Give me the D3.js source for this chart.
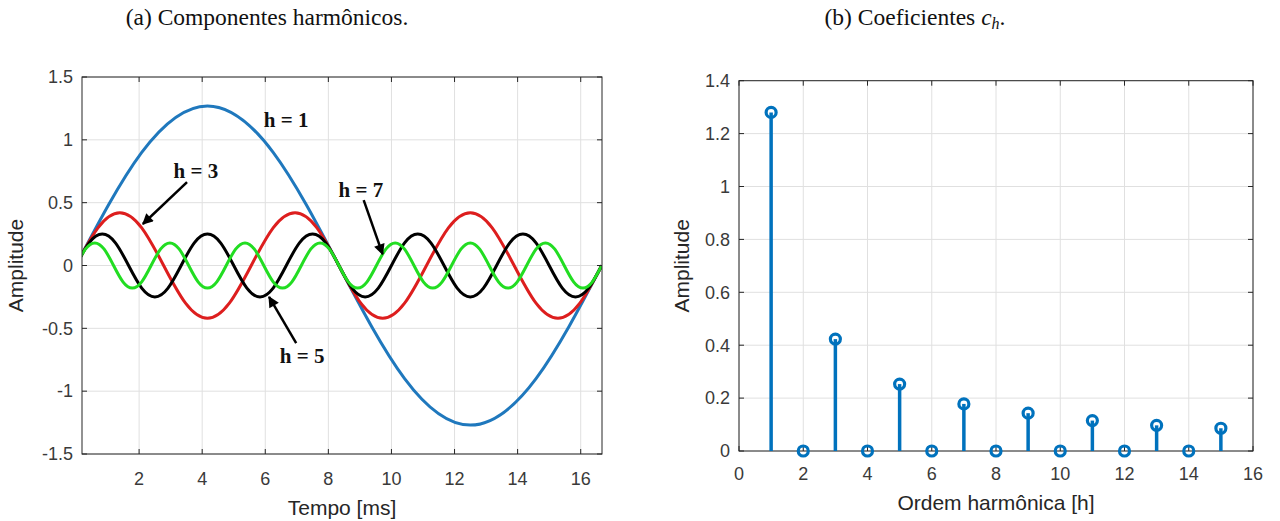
<!DOCTYPE html>
<html>
<head>
<meta charset="utf-8">
<script src="https://cdn.jsdelivr.net/npm/d3@7"></script>
<style>
	body { margin: 0; background: #fff; }
	svg { display: block; }
	.tick-label { font-family: "Liberation Sans", Arial, sans-serif; font-size: 18px; fill: #3a3a3a; }
	.axis-label { font-family: "Liberation Sans", Arial, sans-serif; font-size: 21px; fill: #262626; }
	.title { font-family: "Liberation Serif", serif; font-size: 23.5px; fill: #111; }
	.note { font-family: "Liberation Serif", serif; font-size: 21px; font-weight: bold; fill: #111; }
</style>
</head>
<body>
<script>
let period = 16.667 // ms
let harmonics = [1, 3, 5, 7]
let waveColors = ['#1f78bd', '#dd1e1e', '#000000', '#22dd22']

let wave1 = [0, 0.9, 1.27, 0.9, 0, -0.9, -1.27, -0.9, 0]
let wave3 = [
	0, 0.3, 0.42, 0.3, 0, -0.3, -0.42, -0.3,
	0, 0.3, 0.42, 0.3, 0, -0.3, -0.42, -0.3,
	0, 0.3, 0.42, 0.3, 0, -0.3, -0.42, -0.3,
	0]
let wave5 = [
	0, 0.18, 0.25, 0.18, 0, -0.18, -0.25, -0.18,
	0, 0.18, 0.25, 0.18, 0, -0.18, -0.25, -0.18,
	0, 0.18, 0.25, 0.18, 0, -0.18, -0.25, -0.18,
	0, 0.18, 0.25, 0.18, 0, -0.18, -0.25, -0.18,
	0, 0.18, 0.25, 0.18, 0, -0.18, -0.25, -0.18,
	0]
let wave7 = [
	0, 0.13, 0.18, 0.13, 0, -0.13, -0.18, -0.13,
	0, 0.13, 0.18, 0.13, 0, -0.13, -0.18, -0.13,
	0, 0.13, 0.18, 0.13, 0, -0.13, -0.18, -0.13,
	0, 0.13, 0.18, 0.13, 0, -0.13, -0.18, -0.13,
	0, 0.13, 0.18, 0.13, 0, -0.13, -0.18, -0.13,
	0, 0.13, 0.18, 0.13, 0, -0.13, -0.18, -0.13,
	0, 0.13, 0.18, 0.13, 0, -0.13, -0.18, -0.13,
	0]
let waves = [wave1, wave3, wave5, wave7]

let timeTicks = [2, 4, 6, 8, 10, 12, 14, 16]
let ampTicksA = [-1.5, -1, -0.5, 0, 0.5, 1, 1.5]

// anotacoes: texto e setas, em unidades dos eixos (t em ms, y em amplitude)
let notes = [
	{ text: 'h = 1', t: 6.66, y: 1.10 },
	{ text: 'h = 3', t: 3.80, y: 0.70 },
	{ text: 'h = 7', t: 9.03, y: 0.545 },
	{ text: 'h = 5', t: 7.17, y: -0.776 },
]
let arrows = [
	{ t0: 3.52, y0: 0.664, t1: 2.12, y1: 0.33 },
	{ t0: 9.12, y0: 0.52, t1: 9.72, y1: 0.09 },
	{ t0: 6.98, y0: -0.617, t1: 6.12, y1: -0.25 },
]

// (b) coeficientes c_h
let orders = [1, 2, 3, 4, 5, 6, 7, 8, 9, 10, 11, 12, 13, 14, 15]
let coefs = [1.28, 0, 0.423, 0, 0.253, 0, 0.178, 0, 0.143, 0, 0.115, 0, 0.097, 0, 0.086]
let orderTicks = [0, 2, 4, 6, 8, 10, 12, 14, 16]
let ampTicksB = [0, 0.2, 0.4, 0.6, 0.8, 1, 1.2, 1.4]

let W = 1280, H = 521
let svg = d3.select('body').append('svg')
	.attr('width', W)
	.attr('height', H)

let defs = svg.append('defs')
defs.append('marker')
	.attr('id', 'head')
	.attr('viewBox', '0 0 10 10')
	.attr('refX', 9)
	.attr('refY', 5)
	.attr('markerUnits', 'userSpaceOnUse')
	.attr('markerWidth', 14)
	.attr('markerHeight', 11)
	.attr('orient', 'auto')
	.append('path')
	.attr('d', 'M0,0L10,5L0,10Z')
	.attr('fill', '#000')

function grid(g, x, y, xTicks, yTicks) {
	let [xa, xb] = x.range()
	let [ya, yb] = y.range()
	g.append('g').selectAll('line').data(xTicks).join('line')
		.attr('x1', d => x(d)).attr('x2', d => x(d))
		.attr('y1', ya).attr('y2', yb)
		.attr('stroke', '#e0e0e0')
	g.append('g').selectAll('line').data(yTicks).join('line')
		.attr('y1', d => y(d)).attr('y2', d => y(d))
		.attr('x1', xa).attr('x2', xb)
		.attr('stroke', '#e0e0e0')
}

function ticksAndBox(g, x, y, xTicks, yTicks, xLabelGap) {
	let [xa, xb] = x.range()
	let [ya, yb] = y.range()
	let c = '#262626', tl = 5
	g.append('rect')
		.attr('x', xa).attr('y', yb)
		.attr('width', xb - xa).attr('height', ya - yb)
		.attr('fill', 'none').attr('stroke', c).attr('stroke-width', 1)
	let tk = g.append('g').attr('stroke', c)
	xTicks.forEach(d => {
		tk.append('line').attr('x1', x(d)).attr('x2', x(d)).attr('y1', ya).attr('y2', ya - tl)
		tk.append('line').attr('x1', x(d)).attr('x2', x(d)).attr('y1', yb).attr('y2', yb + tl)
	})
	yTicks.forEach(d => {
		tk.append('line').attr('y1', y(d)).attr('y2', y(d)).attr('x1', xa).attr('x2', xa + tl)
		tk.append('line').attr('y1', y(d)).attr('y2', y(d)).attr('x1', xb).attr('x2', xb - tl)
	})
	g.append('g').selectAll('text').data(xTicks).join('text')
		.attr('class', 'tick-label')
		.attr('x', d => x(d))
		.attr('y', ya + xLabelGap)
		.attr('text-anchor', 'middle')
		.text(d => d)
	g.append('g').selectAll('text').data(yTicks).join('text')
		.attr('class', 'tick-label')
		.attr('x', xa - 9)
		.attr('y', d => y(d))
		.attr('dy', '0.35em')
		.attr('text-anchor', 'end')
		.text(d => d)
}

// ---------- (a) ----------
let xA = d3.scaleLinear().domain([0.19, 16.675]).range([82, 602])
let yA = d3.scaleLinear().domain([-1.5, 1.5]).range([454, 77])
let gA = svg.append('g')

grid(gA, xA, yA, timeTicks, ampTicksA)

defs.append('clipPath').attr('id', 'clipA')
	.append('rect').attr('x', 82).attr('y', 77).attr('width', 520).attr('height', 377)

let line = d3.line()
	.x(d => xA(d[0]))
	.y(d => yA(d[1]))
	.curve(d3.curveNatural)

gA.append('g').attr('clip-path', 'url(#clipA)')
	.selectAll('path').data(waves).join('path')
	.attr('d', (w, k) => line(w.map((v, i) => [i * period / (8 * harmonics[k]), v])))
	.attr('fill', 'none')
	.attr('stroke', (w, k) => waveColors[k])
	.attr('stroke-width', 3)

ticksAndBox(gA, xA, yA, timeTicks, ampTicksA, 31)

gA.append('g').selectAll('text').data(notes).join('text')
	.attr('class', 'note')
	.attr('x', d => xA(d.t))
	.attr('y', d => yA(d.y))
	.attr('text-anchor', 'middle')
	.text(d => d.text)

gA.append('g').selectAll('line').data(arrows).join('line')
	.attr('x1', d => xA(d.t0)).attr('y1', d => yA(d.y0))
	.attr('x2', d => xA(d.t1)).attr('y2', d => yA(d.y1))
	.attr('stroke', '#000')
	.attr('stroke-width', 2.5)
	.attr('marker-end', 'url(#head)')

gA.append('text').attr('class', 'axis-label')
	.attr('x', 342).attr('y', 515)
	.attr('text-anchor', 'middle')
	.text('Tempo [ms]')
gA.append('text').attr('class', 'axis-label')
	.attr('transform', 'translate(23,' + (77 + 454) / 2 + ') rotate(-90)')
	.attr('text-anchor', 'middle')
	.text('Amplitude')

svg.append('text').attr('class', 'title')
	.attr('x', 267).attr('y', 25)
	.attr('text-anchor', 'middle')
	.text('(a) Componentes harmônicos.')

// ---------- (b) ----------
let xB = d3.scaleLinear().domain([0, 16]).range([739, 1253])
let yB = d3.scaleLinear().domain([0, 1.4]).range([451, 80.7])
let gB = svg.append('g')

grid(gB, xB, yB, orderTicks, ampTicksB)
ticksAndBox(gB, xB, yB, orderTicks, ampTicksB, 29)

let stems = gB.append('g')
stems.selectAll('line').data(orders).join('line')
	.attr('x1', d => xB(d)).attr('x2', d => xB(d))
	.attr('y1', yB(0))
	.attr('y2', (d, i) => yB(coefs[i]))
	.attr('stroke', '#0072bd')
	.attr('stroke-width', 3.5)
stems.selectAll('circle').data(orders).join('circle')
	.attr('cx', d => xB(d))
	.attr('cy', (d, i) => yB(coefs[i]))
	.attr('r', 5)
	.attr('fill', 'none')
	.attr('stroke', '#0072bd')
	.attr('stroke-width', 3.2)

gB.append('text').attr('class', 'axis-label')
	.attr('x', 996).attr('y', 510)
	.attr('text-anchor', 'middle')
	.text('Ordem harmônica [h]')
gB.append('text').attr('class', 'axis-label')
	.attr('transform', 'translate(689,' + (80.7 + 451) / 2 + ') rotate(-90)')
	.attr('text-anchor', 'middle')
	.text('Amplitude')

let tb = svg.append('text').attr('class', 'title')
	.attr('x', 915).attr('y', 25)
	.attr('text-anchor', 'middle')
tb.append('tspan').text('(b) Coeficientes ')
tb.append('tspan').attr('font-style', 'italic').text('c')
tb.append('tspan').attr('font-style', 'italic').attr('font-size', '16px').attr('dy', 4).text('h')
tb.append('tspan').attr('dy', -4).text('.')
</script>
</body>
</html>
